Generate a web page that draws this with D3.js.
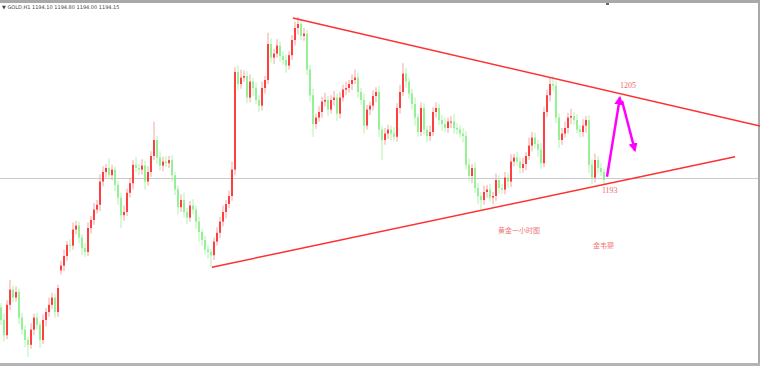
<!DOCTYPE html>
<html>
<head>
<meta charset="utf-8">
<script src="https://cdnjs.cloudflare.com/ajax/libs/d3/7.8.5/d3.min.js"></script>
<style>
body{margin:0;background:#fff}
svg{display:block}
</style>
</head>
<body>
<svg id="chart" width="760" height="366"></svg>
<script>
// hourly gold closes
var closes = [
1176.4,1174.5,1178.3,1180.2,1179.2,1179.9,1176.7,1175.2,1173.9,1173.3,
1175.2,1176.7,1175.8,1173.9,1176.4,1177.4,1178.3,1179.2,1177.4,1180.4,
1183.2,1184.4,1185.8,1185.7,1187.7,1188.2,1186.7,1185.4,1184.9,1187.9,
1188.9,1190.2,1190.8,1193.7,1194.9,1195.4,1194.5,1195.2,1193.3,1191.7,
1189.5,1189.9,1192.3,1193.5,1195.8,1195.4,1195.2,1195.7,1193.7,1194.9,
1196.9,1198.9,1196.7,1195.7,1196.2,1196.0,1196.4,1194.5,1192.7,1190.5,
1191.4,1189.9,1189.2,1190.7,1190.2,1188.7,1187.4,1186.4,1185.2,1184.9,
1184.5,1186.2,1187.3,1188.7,1189.9,1190.9,1191.9,1195.2,1207.4,1205.9,
1206.7,1206.9,1204.2,1206.2,1205.4,1203.9,1203.2,1205.4,1206.4,1210.9,
1209.2,1209.7,1210.7,1209.4,1208.9,1208.2,1209.5,1211.4,1212.9,1213.4,
1211.9,1212.2,1207.7,1204.5,1200.9,1201.7,1202.4,1203.7,1203.9,1202.7,
1203.9,1204.2,1202.2,1204.2,1205.2,1205.4,1205.9,1206.4,1206.7,1204.9,
1203.9,1200.7,1202.7,1203.2,1204.4,1204.9,1200.2,1198.9,1199.7,1200.2,
1199.7,1199.3,1202.9,1204.9,1207.2,1206.2,1204.7,1203.4,1201.7,1199.9,
1202.9,1200.2,1199.4,1199.9,1202.4,1202.9,1201.4,1200.9,1200.4,1201.2,
1201.2,1200.4,1200.2,1199.7,1199.4,1195.8,1194.4,1195.4,1192.9,1191.9,
1191.4,1192.4,1192.7,1191.7,1191.9,1193.9,1192.9,1192.7,1194.2,1193.7,
1196.2,1196.7,1196.2,1195.4,1195.9,1196.9,1198.2,1199.2,1198.4,1197.7,
1196.0,1202.4,1204.5,1205.9,1205.7,1201.7,1198.9,1199.7,1200.4,1201.7,
1201.9,1201.4,1200.2,1199.9,1200.7,1201.4,1195.8,1194.2,1196.4,1195.4,
1194.9,1193.9];

var wickUp = [
0.5,0.8,0.6,1.2,0.5,0.7,0.4,0.6,0.5,0.4,
0.8,0.5,0.6,0.4,0.7,0.5,0.9,0.6,0.5,0.4,
0.6,0.8,0.5,0.7,0.9,0.6,0.5,0.4,0.6,0.7,
0.5,0.8,0.6,0.9,0.7,0.5,1.2,0.6,0.4,0.5,
0.6,0.8,0.5,0.7,0.6,1.0,0.5,0.8,0.6,0.7,
0.6,2.3,0.5,0.8,0.6,0.7,0.5,0.6,0.4,0.5,
0.7,0.9,0.5,0.6,0.8,0.5,0.6,0.4,0.5,0.6,
0.4,0.5,0.7,0.6,0.8,0.5,0.7,1.0,0.6,0.8,
1.0,0.7,0.6,0.9,0.5,0.7,0.6,0.8,0.5,1.4,
0.7,0.6,0.8,0.5,0.6,0.7,0.5,0.6,0.8,0.9,
0.6,0.7,0.5,0.6,0.8,0.5,0.7,0.6,0.9,0.5,
0.6,0.8,0.5,0.7,0.6,0.8,0.5,0.7,1.0,0.6,
0.5,0.8,0.6,0.5,0.7,0.6,0.8,0.5,0.7,0.6,
0.5,0.8,0.6,0.9,1.3,0.7,0.5,0.6,0.8,0.5,
0.7,0.6,0.5,0.8,0.6,0.7,0.5,0.6,0.8,0.5,
0.7,0.9,0.6,0.5,0.7,0.6,0.8,0.5,0.7,0.6,
0.5,0.8,0.6,0.7,0.5,0.8,0.6,0.5,0.7,0.6,
0.9,0.5,0.7,0.6,0.8,0.5,1.0,0.7,0.6,0.5,
0.8,0.6,0.7,0.9,1.0,0.6,0.5,0.7,0.8,0.6,
0.9,0.5,0.7,0.6,0.8,0.5,0.6,0.7,0.8,0.5,
0.6,0.4];

var wickDown = [
0.6,0.8,0.5,0.7,0.6,0.5,0.8,0.6,0.9,1.5,
0.5,0.7,0.6,1.0,0.5,0.8,0.6,0.5,0.7,0.6,
0.5,0.7,0.6,0.8,0.5,0.6,0.7,0.9,0.6,0.5,
0.7,0.6,0.5,0.8,0.6,0.7,0.5,0.6,0.8,0.9,
1.6,0.7,0.5,0.6,0.8,0.5,0.7,0.6,1.0,0.5,
0.6,0.5,0.8,0.6,0.7,0.5,0.6,0.8,0.7,0.9,
0.6,0.7,0.8,0.5,0.6,0.9,1.2,0.7,0.6,0.8,
1.5,0.6,0.5,0.7,0.6,0.8,0.5,0.6,0.7,0.8,
0.6,0.5,0.7,0.6,1.0,0.5,0.8,0.6,0.7,0.5,
0.6,0.8,0.5,0.7,0.6,0.9,0.5,0.6,0.7,0.8,
0.5,0.6,0.7,0.8,1.6,0.6,0.5,0.7,0.6,0.8,
0.5,0.7,0.9,0.6,0.5,0.7,0.6,0.8,0.5,0.7,
0.6,1.0,0.5,0.7,0.6,0.8,0.9,2.5,0.6,0.7,
0.8,0.5,0.6,0.7,0.5,0.8,0.6,0.7,1.0,0.6,
0.5,0.7,0.8,0.6,0.5,0.7,0.6,0.9,0.5,0.6,
0.8,0.7,0.6,0.5,0.8,0.6,0.7,0.9,0.6,1.0,
1.2,0.6,0.7,0.5,0.8,0.6,0.7,0.5,0.6,0.8,
0.7,0.6,0.5,0.7,0.6,0.8,0.5,0.7,0.6,0.9,
0.7,0.5,0.6,0.8,0.6,0.7,1.0,0.6,0.5,0.7,
0.8,0.6,0.5,0.7,0.6,0.9,1.0,0.8,0.6,0.7,
0.5,0.6];

var firstOpen = 1178.0;
// weekend gap: bar index and its own open
var gapOpens = [[20, 1182.6]];
var bidPrice = 1194.15;
var headerText = "\u25BC GOLD,H1  1194.10 1194.80 1194.00 1194.15";

// annotations, in [bar index, price]
var trendUpper = [[97.3, 1214.15], [253, 1200.65]];
var trendLower = [[70.3, 1183.0], [244.7, 1196.8]];
var arrowUp = [[202, 1194.3], [206.3, 1204.2]];
var arrowDown = [[207, 1203.8], [211.3, 1197.6]];
var numLabels = [["1205", 206.3, 1205.4], ["1193", 200.3, 1192.3]];
var cnLabels = [["黄金一小时图", 165.7, 1187.3], ["金韦婴", 197.3, 1185.4]];

var svg = d3.select("#chart");
var W = 760, H = 366;

var x = d3.scaleLinear().domain([0, 253]).range([1, 760]);
var y = d3.scaleLinear().domain([1170.4, 1216.4]).range([368, 0]);

var gapMap = new Map(gapOpens);
var candles = closes.map(function (c, i) {
    var o = i == 0 ? firstOpen : (gapMap.has(i) ? gapMap.get(i) : closes[i - 1]);
    return {i: i, o: o, c: c,
        h: Math.max(o, c) + wickUp[i],
        l: Math.min(o, c) - wickDown[i]};
});

// frame
svg.append("rect").attr("x", 0).attr("y", 0).attr("width", W).attr("height", 3).attr("fill", "#a9a9a9");
svg.append("rect").attr("x", 758).attr("y", 0).attr("width", 2).attr("height", H).attr("fill", "#a9a9a9");
svg.append("rect").attr("x", 0).attr("y", 363).attr("width", W).attr("height", 3).attr("fill", "#b4b4b4");
svg.append("rect").attr("x", 606).attr("y", 3).attr("width", 3).attr("height", 2).attr("fill", "#5a6a78");

// bid line
svg.append("line")
    .attr("x1", 0).attr("x2", 758)
    .attr("y1", Math.round(y(bidPrice)) + 0.5).attr("y2", Math.round(y(bidPrice)) + 0.5)
    .attr("stroke", "#c6c9d1").attr("stroke-width", 1);

var g = svg.append("g");
g.selectAll(".wick").data(candles).enter().append("line")
    .attr("class", "wick")
    .attr("x1", function (d) { return x(d.i); })
    .attr("x2", function (d) { return x(d.i); })
    .attr("y1", function (d) { return y(d.h); })
    .attr("y2", function (d) { return y(d.l); })
    .attr("stroke", function (d) { return d.c >= d.o ? "#f6a3a3" : "#aef5ae"; })
    .attr("stroke-width", 1);

g.selectAll(".body").data(candles).enter().append("rect")
    .attr("class", "body")
    .attr("x", function (d) { return x(d.i) - 0.8; })
    .attr("width", 1.6)
    .attr("y", function (d) { return y(Math.max(d.o, d.c)); })
    .attr("height", function (d) { return Math.max(1, Math.abs(y(d.o) - y(d.c))); })
    .attr("fill", function (d) { return d.c >= d.o ? "#ff1c1c" : "#86ef86"; });

// trend lines
[trendUpper, trendLower].forEach(function (t) {
    svg.append("line")
        .attr("x1", x(t[0][0])).attr("y1", y(t[0][1]))
        .attr("x2", x(t[1][0])).attr("y2", y(t[1][1]))
        .attr("stroke", "#ff3030").attr("stroke-width", 1.5);
});

// arrows
svg.append("defs").append("marker")
    .attr("id", "head")
    .attr("viewBox", "0 0 10 10")
    .attr("refX", 8).attr("refY", 5)
    .attr("markerWidth", 9).attr("markerHeight", 9)
    .attr("markerUnits", "userSpaceOnUse")
    .attr("orient", "auto")
    .append("path").attr("d", "M0,0L10,5L0,10Z").attr("fill", "#ff00ff");

[arrowUp, arrowDown].forEach(function (a) {
    svg.append("line")
        .attr("x1", x(a[0][0])).attr("y1", y(a[0][1]))
        .attr("x2", x(a[1][0])).attr("y2", y(a[1][1]))
        .attr("stroke", "#ff00ff").attr("stroke-width", 2.5)
        .attr("marker-end", "url(#head)");
});

// labels
svg.selectAll(".num").data(numLabels).enter().append("text")
    .attr("x", function (d) { return x(d[1]); })
    .attr("y", function (d) { return y(d[2]); })
    .attr("font-family", "Liberation Serif, serif")
    .attr("font-size", 8)
    .attr("fill", "#f06a6a")
    .text(function (d) { return d[0]; });

svg.selectAll(".cn").data(cnLabels).enter().append("text")
    .attr("x", function (d) { return x(d[1]); })
    .attr("y", function (d) { return y(d[2]); })
    .attr("font-family", "Noto Sans CJK SC")
    .attr("font-size", 7)
    .attr("fill", "#f07878")
    .text(function (d) { return d[0]; });

svg.append("text")
    .attr("x", 2).attr("y", 9)
    .attr("font-family", "DejaVu Sans")
    .attr("font-size", 5)
    .attr("fill", "#444")
    .text(headerText);
</script>
</body>
</html>
